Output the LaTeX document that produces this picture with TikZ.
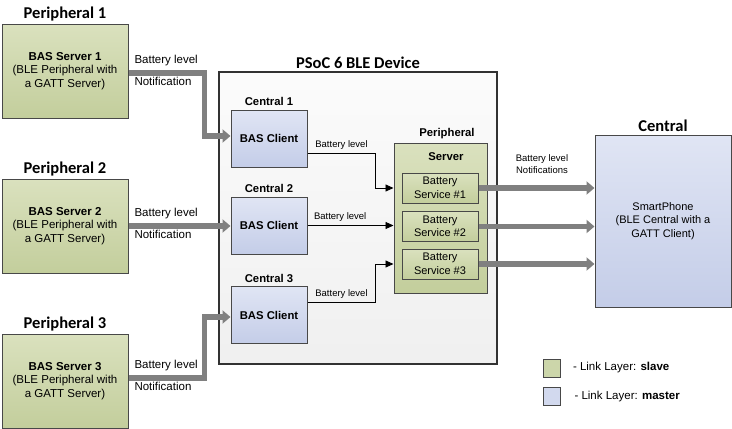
\documentclass[tikz,border=0pt]{standalone}
\usepackage{fontspec}
\setmainfont{Liberation Sans}
\newfontfamily\titlefont{Carlito}
\usetikzlibrary{arrows.meta,calc,positioning}
\definecolor{slavetop}{RGB}{218,225,190}
\definecolor{slavebot}{RGB}{195,206,156}
\definecolor{mastertop}{RGB}{224,229,244}
\definecolor{masterbot}{RGB}{196,205,232}
\definecolor{edgegray}{RGB}{72,72,72}
\definecolor{pipegray}{RGB}{128,128,128}
\begin{document}
\begin{tikzpicture}[x=1pt,y=-1pt,line join=miter,
    slavebox/.style={draw=edgegray,line width=1pt,top color=slavetop,bottom color=slavebot,inner sep=0pt,align=center},
    masterbox/.style={draw=edgegray,line width=1pt,top color=mastertop,bottom color=masterbot,inner sep=0pt,align=center},
    ttl/.style={font=\titlefont\bfseries\fontsize{16.5}{18}\selectfont,inner sep=2pt},
    hdr/.style={font=\bfseries\fontsize{11.3}{13}\selectfont},
    txt/.style={font=\fontsize{11.5}{13.5}\selectfont,align=center},
    small/.style={font=\fontsize{9.5}{12}\selectfont,align=center},
    pipe/.style={draw=pipegray,line width=5.5pt,-{Triangle[length=8pt,width=13pt]}},
    wire/.style={draw=black,line width=0.9pt,-{Triangle[length=8pt,width=7pt]}}]
    \useasboundingbox (0,0) rectangle (732,429);
    % device frame
    \node[draw=edgegray!70!black,line width=1.3pt,top color=gray!3,bottom color=gray!12,
        minimum width=278pt,minimum height=292pt] (psoc) at (358,218) {};
    \node[ttl,above=1pt of psoc.north] (psoctitle) {PSoC 6 BLE Device};
    % peripherals
    \foreach \i/\y in {1/71,2/226,3/381}{
        \node[slavebox,txt,minimum width=126pt,minimum height=94pt] (bas\i) at (65,\y)
            {\textbf{BAS Server \i}\\(BLE Peripheral with\\a GATT Server)};
        \node[ttl,above=0pt of bas\i.north] (per\i) {Peripheral \i};
    }
    % centrals inside the device
    \foreach \i/\y in {1/138.5,2/225.5,3/315}{
        \node[masterbox,hdr,minimum width=76pt,minimum height=57pt] (cli\i) at (269,\y) {BAS Client};
        \node[hdr,above=0pt of cli\i.north] (cen\i) {Central \i};
    }
    % server
    \node[slavebox,minimum width=93pt,minimum height=150pt] (srv) at (440.5,218) {};
    \node[hdr] (srvperi) at (447,134) {Peripheral};
    \node[hdr] (srvtitle) at (446,157) {Server};
    \foreach \i/\y in {1/188,2/226.5,3/264}
    \node[slavebox,font=\fontsize{11}{13.5}\selectfont,minimum width=76pt,minimum height=30pt] (svc\i) at (440,\y)
        {Battery\\Service \#\i};
    % smartphone
    \node[masterbox,font=\fontsize{11}{13.5}\selectfont,minimum width=136pt,minimum height=172pt] (phone) at (663,221)
        {SmartPhone\\(BLE Central with a\\GATT Client)};
    \node[ttl,above=1pt of phone.north] (phonetitle) {Central};
    
    % peripheral -> client
    \draw[pipe] ($(bas1.east)+(0,2)$) -| ($(cli1.west)+(-26,-2.5)$) -- ($(cli1.west)+(0,-2.5)$);
    \draw[pipe] (bas2.east) -- (bas2.east-|cli2.west);
    \draw[pipe] ($(bas3.east)+(0,-3)$) -| ($(cli3.west)+(-26,2)$) -- ($(cli3.west)+(0,2)$);
    \foreach \i/\y in {1/73,2/226,3/378}{
        \node[txt,anchor=west] (lvl\i) at (131,\y-12) {Battery level};
        \node[txt,anchor=west] (ntf\i) at (131,\y+8) {Notification};
    }
    
    % client -> service
    \draw[wire] ($(cli1.east)+(0,14.5)$) -| node[small,above,pos=0.25] (wl1) {Battery level}
        ($(srv.west|-svc1)+(-18,0)$) -- (srv.west|-svc1);
    \draw[wire] (cli2.east) -- node[small,above,pos=0.38] (wl2) {Battery level} (srv.west|-cli2.east);
    \draw[wire] ($(cli3.east)+(0,-13)$) -| node[small,above,pos=0.25] (wl3) {Battery level}
        ($(srv.west|-svc3)+(-18,0)$) -- (srv.west|-svc3);
    
    % service -> smartphone
    \foreach \i in {1,2,3}
    \draw[pipe] (svc\i.east) -- (phone.west|-svc\i.east);
    \node[small] (ntfr) at (542,164) {Battery level\\Notifications};
    
    % legend
    \node[draw=edgegray,fill=slavebot!60!slavetop,minimum width=17pt,minimum height=18pt,inner sep=0pt] (lgs) at (551.5,368) {};
    \node[txt,anchor=west] (lgstxt) at (569.5,368) {- Link Layer: \textbf{slave}};
    \node[draw=edgegray,fill=masterbot!50!mastertop,minimum width=17pt,minimum height=18pt,inner sep=0pt] (lgm) at (551.5,396.5) {};
    \node[txt,anchor=west] (lgmtxt) at (571,397) {- Link Layer: \textbf{master}};
\end{tikzpicture}
\end{document}
